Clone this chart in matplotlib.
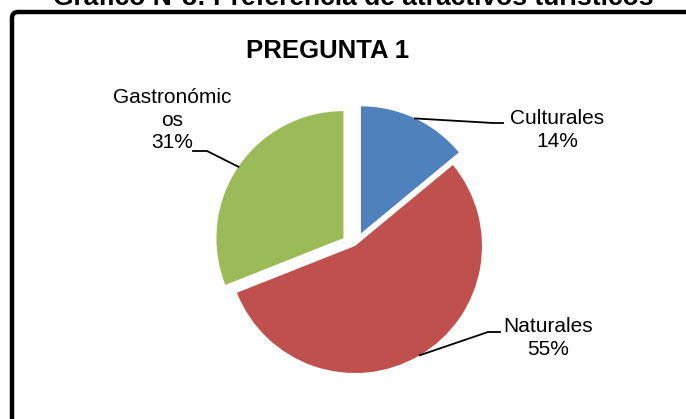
import numpy as np
import matplotlib.pyplot as plt
from matplotlib.patches import FancyBboxPatch

plt.rcParams['font.family'] = ['Liberation Sans', 'DejaVu Sans']

categories = ['Culturales', 'Naturales', 'Gastronómicos']
label_text = ['Culturales', 'Naturales', 'Gastronómic\nos']
percent = [14, 55, 31]
colors = ['#4F81BD', '#C0504D', '#9BBB59']
explode_frac = [0.11, 0.0, 0.11]

W, H = 686, 419

fig = plt.figure(figsize=(W / 100, H / 100), dpi=100)
ax = fig.add_axes([0, 0, 1, 1])


def px(x, y):
    # pixel position (from top-left) -> data coords
    return x, H - y


# outer frame (only top and left visible)
frame = FancyBboxPatch(px(12, 440), 740, 428, boxstyle='round,pad=0,rounding_size=6',
                       fill=False, lw=3.2, ec='black', clip_on=False)
ax.add_patch(frame)

# cut-off caption above the frame
ax.text(*px(353, 5), 'Gráfico N°3: Preferencia de atractivos turísticos',
        ha='center', va='baseline', fontsize=19, fontweight='bold', clip_on=False)

ax.text(*px(328, 51), 'PREGUNTA 1', ha='center', va='center',
        fontsize=18.5, fontweight='bold')

center = px(355, 246)
radius = 127
# matplotlib's explode offset is in data units, so scale by the radius
wedges, _ = ax.pie(percent, colors=colors, explode=[f * radius for f in explode_frac],
                   startangle=90, counterclock=False, center=center, radius=radius,
                   wedgeprops=dict(linewidth=0))
ax.set_xlim(0, W)
ax.set_ylim(0, H)
ax.set_aspect('equal')
ax.axis('off')

# label layout: text centre and elbow of the leader line (pixels)
text_pos = [(557, 130), (548, 338), (172, 120)]
elbow = [(493, 123), (488, 332), (207, 151)]
line_end = [(503, 123), (500, 332), (193, 151)]

for w, name, p, tp, el, le in zip(wedges, label_text, percent, text_pos, elbow, line_end):
    mid = np.deg2rad((w.theta1 + w.theta2) / 2)
    cx, cy = w.center
    ax_pt = (cx + w.r * np.cos(mid), cy + w.r * np.sin(mid))
    e = px(*el)
    l = px(*le)
    ax.plot([ax_pt[0], e[0], l[0]], [ax_pt[1], e[1], l[1]], color='black', lw=1.3)
    ax.text(*px(*tp), f'{name}\n{p}%', ha='center', va='center',
            fontsize=15, linespacing=1.25, multialignment='center')

fig.savefig('out.png', dpi=100)
